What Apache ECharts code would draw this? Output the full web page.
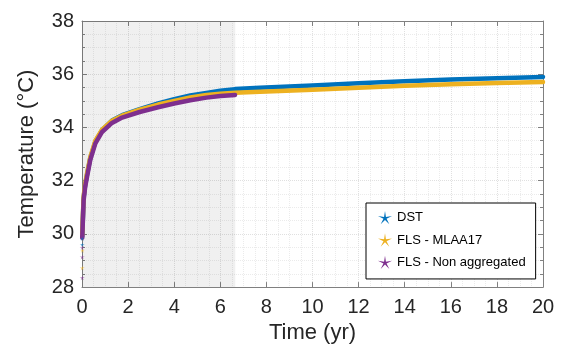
<!DOCTYPE html>
<html>
<head>
<meta charset="utf-8">
<script src="https://cdn.jsdelivr.net/npm/echarts@6/dist/echarts.min.js"></script>
<style>
	html, body { margin: 0; padding: 0; background: #fff; }
	#chart { width: 564px; height: 349px; }
</style>
</head>
<body>
<div id="chart"></div>
<script>
	// values: [time (yr), temperature (degC)]
	var dstData = [
		[0.01, 29.9], [0.03, 30.4], [0.07, 31.35], [0.14, 31.85], [0.22, 32.24], [0.36, 32.85],
		[0.58, 33.47], [0.87, 33.9], [1.3, 34.26], [1.74, 34.46], [2.5, 34.69],
		[3.3, 34.9], [4.0, 35.06], [4.7, 35.2], [5.4, 35.3], [6.0, 35.38], [6.64, 35.44], [7.72, 35.49],
		[10, 35.58], [12, 35.66], [14, 35.74], [16, 35.8], [18, 35.85], [20, 35.9]
	];
	var mlaaData = [
		[0.01, 29.95], [0.03, 30.5], [0.07, 31.4], [0.14, 31.9], [0.22, 32.28], [0.36, 32.88],
		[0.58, 33.5], [0.87, 33.92], [1.3, 34.25], [1.74, 34.44], [2.5, 34.67],
		[3.3, 34.86], [4.0, 35.0], [4.7, 35.13], [5.4, 35.22], [6.0, 35.27], [6.64, 35.3], [7.72, 35.34],
		[10, 35.42], [12, 35.49], [14, 35.57], [16, 35.62], [18, 35.67], [20, 35.71]
	];
	var nonAggData = [
		[0.01, 29.85], [0.03, 30.3], [0.07, 31.25], [0.14, 31.78], [0.22, 32.15], [0.36, 32.78],
		[0.58, 33.4], [0.87, 33.83], [1.3, 34.17], [1.74, 34.37], [2.5, 34.58],
		[3.3, 34.76], [4.0, 34.9], [4.7, 35.02], [5.4, 35.12], [6.0, 35.18], [6.64, 35.22]
	];
	// scattered first samples near t = 0
	var dstStart = [[0.01, 29.6], [0.01, 29.82]];
	var mlaaStart = [[0.01, 28.72], [0.02, 29.38]];
	var nonAggStart = [[0.01, 28.35], [0.01, 29.13], [0.01, 29.48]];

	var seriesNames = ['DST', 'FLS - MLAA17', 'FLS - Non aggregated'];
	var seriesColors = ['#0072BD', '#EDB120', '#7E2F8E'];
	var shadeEnd = 6.65;

	var star = 'path://M10 0 L11.29 8.22 L19.51 6.91 L12.09 10.68 L15.88 18.09 L10 12.2 L4.12 18.09 L7.91 10.68 L0.49 6.91 L8.71 8.22 Z';
	var font = 'Liberation Sans, Arial, sans-serif';
	var axisColor = '#808080';

	function lineSeries(name, data, color){
		return {
			name: name,
			type: 'line',
			data: data,
			smooth: false,
			showSymbol: false,
			color: color,
			lineStyle: { width: 4.5, color: color, join: 'round', cap: 'round' },
			z: 3
		};
	}
	function startSeries(name, data, color){
		return {
			name: name,
			type: 'scatter',
			data: data,
			symbol: star,
			symbolSize: 5,
			itemStyle: { color: color },
			z: 4
		};
	}

	var series = [
		lineSeries(seriesNames[0], dstData, seriesColors[0]),
		lineSeries(seriesNames[1], mlaaData, seriesColors[1]),
		lineSeries(seriesNames[2], nonAggData, seriesColors[2]),
		startSeries('dst0', dstStart, seriesColors[0]),
		startSeries('mlaa0', mlaaStart, seriesColors[1]),
		startSeries('nonagg0', nonAggStart, seriesColors[2])
	];
	// shaded period
	series[0].markArea = {
		silent: true,
		itemStyle: { color: 'rgba(0,0,0,0.06)' },
		data: [[{ xAxis: 0 }, { xAxis: shadeEnd }]]
	};

	var chart = echarts.init(document.getElementById('chart'));
	chart.setOption({
		animation: false,
		backgroundColor: '#fff',
		grid: { left: 82, right: 21, top: 21, bottom: 60 },
		legend: {
			data: seriesNames,
			orient: 'vertical',
			left: 366,
			top: 203,
			icon: star,
			itemWidth: 14,
			itemHeight: 14,
			itemGap: 9,
			padding: [8, 10, 10, 12],
			backgroundColor: '#fff',
			borderColor: '#000',
			borderWidth: 1,
			borderRadius: 0,
			textStyle: { fontFamily: font, fontSize: 13, color: '#000' }
		},
		xAxis: [
			{
				type: 'value',
				min: 0, max: 20, interval: 2,
				name: 'Time (yr)',
				nameLocation: 'middle',
				nameGap: 33,
				nameTextStyle: { fontFamily: font, fontSize: 22, color: '#262626' },
				axisLine: { show: true, lineStyle: { color: axisColor } },
				axisTick: { show: true, inside: true, length: 5, lineStyle: { color: axisColor } },
				minorTick: { show: true, splitNumber: 4, length: 0 },
				axisLabel: { fontFamily: font, fontSize: 20, color: '#262626', margin: 10 },
				splitLine: { show: true, lineStyle: { color: '#e0e0e0', type: 'dotted' } },
				minorSplitLine: { show: true, lineStyle: { color: '#ebebeb', type: 'dotted' } }
			},
			{
				type: 'value', position: 'top',
				min: 0, max: 20, interval: 2,
				axisLine: { show: true, onZero: false, lineStyle: { color: axisColor } },
				axisTick: { show: true, inside: true, length: 5, lineStyle: { color: axisColor } },
				axisLabel: { show: false },
				splitLine: { show: false }
			}
		],
		yAxis: [
			{
				type: 'value',
				min: 28, max: 38, interval: 2,
				name: 'Temperature (°C)',
				nameLocation: 'middle',
				nameGap: 44,
				nameTextStyle: { fontFamily: font, fontSize: 22, color: '#262626' },
				axisLine: { show: true, lineStyle: { color: axisColor } },
				axisTick: { show: true, inside: true, length: 5, lineStyle: { color: axisColor } },
				minorTick: { show: true, splitNumber: 4, length: 3, lineStyle: { color: axisColor } },
				axisLabel: { fontFamily: font, fontSize: 20, color: '#262626', margin: 8 },
				splitLine: { show: true, lineStyle: { color: '#e0e0e0', type: 'dotted' } },
				minorSplitLine: { show: true, lineStyle: { color: '#ebebeb', type: 'dotted' } }
			},
			{
				type: 'value', position: 'right',
				min: 28, max: 38, interval: 2,
				axisLine: { show: true, onZero: false, lineStyle: { color: axisColor } },
				axisTick: { show: true, inside: true, length: 5, lineStyle: { color: axisColor } },
				minorTick: { show: true, splitNumber: 4, length: 3, lineStyle: { color: axisColor } },
				axisLabel: { show: false },
				splitLine: { show: false }
			}
		],
		series: series
	});
</script>
</body>
</html>
